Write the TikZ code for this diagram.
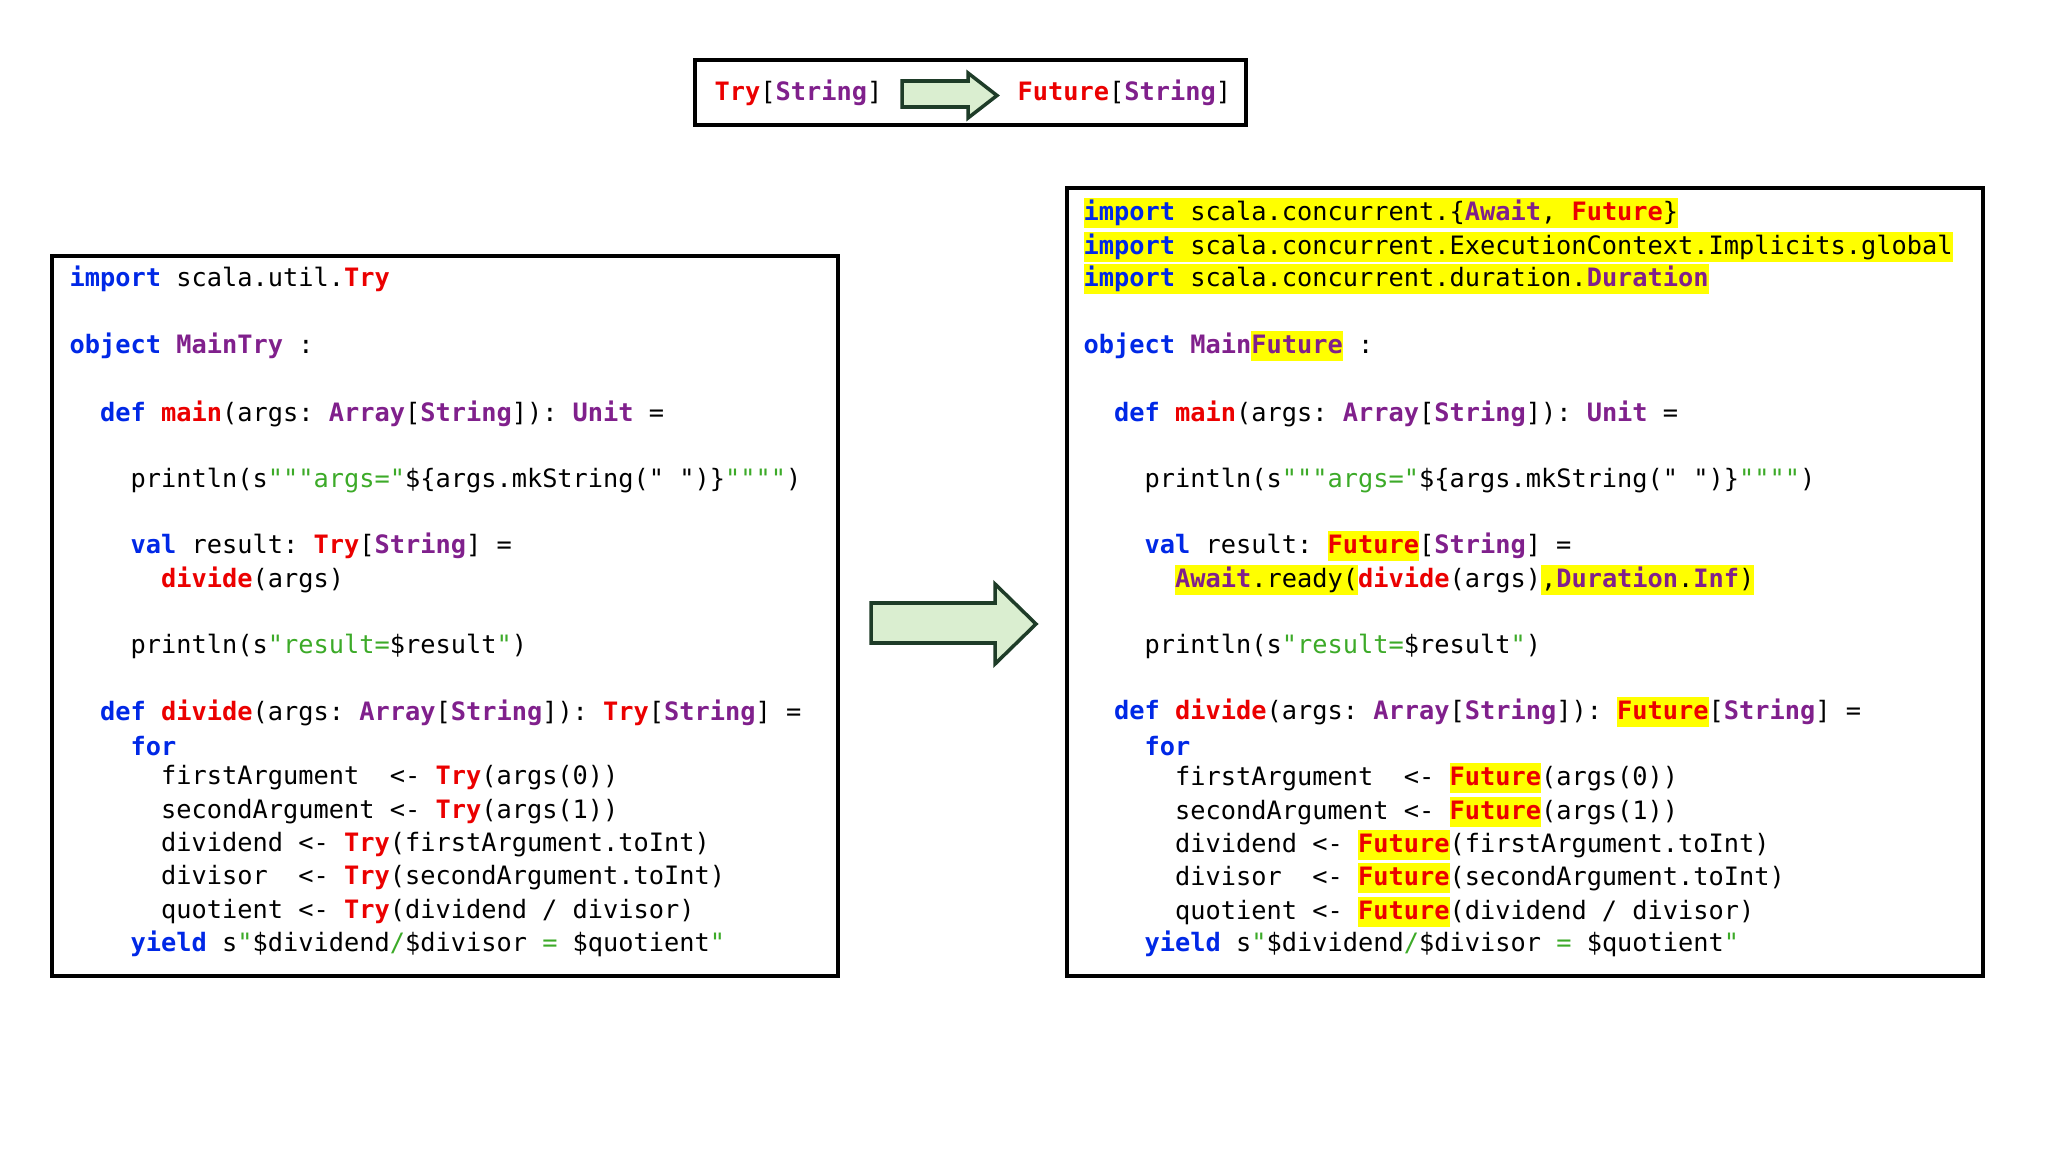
\documentclass[tikz,border=0pt]{standalone}
\usepackage{fontspec}
\setmonofont{DejaVu Sans Mono}
\definecolor{kwblue}{RGB}{0,40,230}
\definecolor{kwred}{RGB}{235,0,0}
\definecolor{kwpurple}{RGB}{128,32,140}
\definecolor{kwgreen}{RGB}{60,170,40}
\definecolor{hlyellow}{RGB}{255,255,0}
\definecolor{arrowfill}{RGB}{218,238,208}
\definecolor{arrowline}{RGB}{30,60,40}
\newcommand{\K}[1]{\textcolor{kwblue}{\textbf{#1}}}
\newcommand{\R}[1]{\textcolor{kwred}{\textbf{#1}}}
\newcommand{\Pu}[1]{\textcolor{kwpurple}{\textbf{#1}}}
\newcommand{\G}[1]{\textcolor{kwgreen}{#1}}
\newcommand{\hl}[1]{{\setlength{\fboxsep}{0pt}\colorbox{hlyellow}{\rule[-0.3em]{0pt}{1.18em}#1}}}
\tikzset{
  code/.style={anchor=west,inner sep=0pt,font=\ttfamily\fontsize{7.2pt}{9pt}\selectfont},
  frame/.style={draw=black,line width=1.2pt},
  bigarrow/.style={draw=arrowline,fill=arrowfill,line width=1pt,line join=miter}
}
\begin{document}
\begin{tikzpicture}[x=0.01cm,y=-0.01cm]
\useasboundingbox (0,0) rectangle (2048,1152);
% frames
\draw[frame] (695,60) rectangle (1246,125);
\draw[frame] (52,256) rectangle (838,976);
\draw[frame] (1067,188) rectangle (1983,976);
% top box
\node[code] (t1) at (714,93) {\R{Try}[\Pu{String}]};
\node[code] (t2) at (1017,93) {\R{Future}[\Pu{String}]};
\draw[bigarrow] (902,81) -- (968,81) -- (968,73) -- (997,95.5) -- (968,118) -- (968,107) -- (902,107) -- cycle;
% big arrow
\draw[bigarrow] (871,603) -- (995,603) -- (995,584) -- (1036,624) -- (995,664) -- (995,643) -- (871,643) -- cycle;
% left code
\node[code] (l1) at (69,279) {\K{import} scala.util.\R{Try}};
\node[code] (l2) at (69,346) {\K{object} \Pu{MainTry} :};
\node[code] (l3) at (69,414) {~~\K{def} \R{main}(args: \Pu{Array}[\Pu{String}]): \Pu{Unit} =};
\node[code] (l4) at (69,481) {~~~~println(s\G{"""args="}\$\{args.mkString(" ")\}\G{""""})};
\node[code] (l5) at (69,546) {~~~~\K{val} result: \R{Try}[\Pu{String}] =};
\node[code] (l6) at (69,580) {~~~~~~\R{divide}(args)};
\node[code] (l7) at (69,646) {~~~~println(s\G{"result=}\$result\G{"})};
\node[code] (l8) at (69,713) {~~\K{def} \R{divide}(args: \Pu{Array}[\Pu{String}]): \R{Try}[\Pu{String}] =};
\node[code] (l9) at (69,746) {~~~~\K{for}};
\node[code] (l10) at (69,778) {~~~~~~firstArgument~~<- \R{Try}(args(0))};
\node[code] (l11) at (69,812) {~~~~~~secondArgument <- \R{Try}(args(1))};
\node[code] (l12) at (69,845) {~~~~~~dividend <- \R{Try}(firstArgument.toInt)};
\node[code] (l13) at (69,878) {~~~~~~divisor~~<- \R{Try}(secondArgument.toInt)};
\node[code] (l14) at (69,912) {~~~~~~quotient <- \R{Try}(dividend / divisor)};
\node[code] (l15) at (69,944) {~~~~\K{yield} s\G{"}\$dividend\G{/}\$divisor \G{=} \$quotient\G{"}};
% right code
\node[code] (r1) at (1083,213) {\hl{\K{import} scala.concurrent.\{\Pu{Await}, \R{Future}\}}};
\node[code] (r2) at (1083,247) {\hl{\K{import} scala.concurrent.ExecutionContext.Implicits.global}};
\node[code] (r3) at (1083,279) {\hl{\K{import} scala.concurrent.duration.\Pu{Duration}}};
\node[code] (r4) at (1083,346) {\K{object} \Pu{Main}\hl{\Pu{Future}} :};
\node[code] (r5) at (1083,414) {~~\K{def} \R{main}(args: \Pu{Array}[\Pu{String}]): \Pu{Unit} =};
\node[code] (r6) at (1083,481) {~~~~println(s\G{"""args="}\$\{args.mkString(" ")\}\G{""""})};
\node[code] (r7) at (1083,546) {~~~~\K{val} result: \hl{\R{Future}}[\Pu{String}] =};
\node[code] (r8) at (1083,580) {~~~~~~\hl{\Pu{Await}.ready(}\R{divide}(args)\hl{,\Pu{Duration}.\Pu{Inf})}};
\node[code] (r9) at (1083,646) {~~~~println(s\G{"result=}\$result\G{"})};
\node[code] (r10) at (1083,712) {~~\K{def} \R{divide}(args: \Pu{Array}[\Pu{String}]): \hl{\R{Future}}[\Pu{String}] =};
\node[code] (r11) at (1083,746) {~~~~\K{for}};
\node[code] (r12) at (1083,778) {~~~~~~firstArgument~~<- \hl{\R{Future}}(args(0))};
\node[code] (r13) at (1083,812) {~~~~~~secondArgument <- \hl{\R{Future}}(args(1))};
\node[code] (r14) at (1083,845) {~~~~~~dividend <- \hl{\R{Future}}(firstArgument.toInt)};
\node[code] (r15) at (1083,878) {~~~~~~divisor~~<- \hl{\R{Future}}(secondArgument.toInt)};
\node[code] (r16) at (1083,912) {~~~~~~quotient <- \hl{\R{Future}}(dividend / divisor)};
\node[code] (r17) at (1083,944) {~~~~\K{yield} s\G{"}\$dividend\G{/}\$divisor \G{=} \$quotient\G{"}};
\end{tikzpicture}
\end{document}
